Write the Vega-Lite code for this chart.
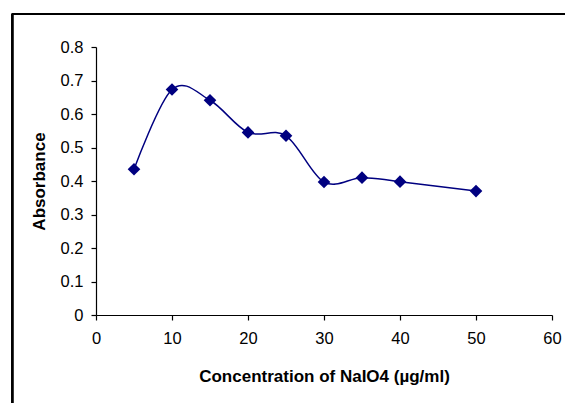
{
  "$schema": "https://vega.github.io/schema/vega-lite/v6.json",
  "width": 456,
  "height": 268,
  "autosize": "none",
  "padding": {"left": 96, "top": 47, "right": 13, "bottom": 88},
  "background": "white",
  "config": {
    "view": {"stroke": null},
    "axis": {
      "grid": false,
      "domainColor": "black",
      "domainWidth": 1.2,
      "tickColor": "black",
      "tickWidth": 1.2,
      "labelColor": "black",
      "titleColor": "black",
      "labelFont": "Liberation Sans",
      "labelFontSize": 16.5,
      "labelOverlap": false,
      "labelFlush": false,
      "titleFont": "Liberation Sans",
      "titleFontSize": 17,
      "titleFontWeight": "bold",
      "tickSize": 5
    }
  },
  "data": {
    "values": [
      {"conc": 5, "abs": 0.435},
      {"conc": 10, "abs": 0.673},
      {"conc": 15, "abs": 0.641},
      {"conc": 20, "abs": 0.545},
      {"conc": 25, "abs": 0.535},
      {"conc": 30, "abs": 0.397},
      {"conc": 35, "abs": 0.41},
      {"conc": 40, "abs": 0.398},
      {"conc": 50, "abs": 0.37}
    ]
  },
  "encoding": {
    "x": {
      "field": "conc",
      "type": "quantitative",
      "scale": {"domain": [0, 60], "nice": false},
      "axis": {
        "values": [0, 10, 20, 30, 40, 50, 60],
        "title": "Concentration of NaIO4 (µg/ml)",
        "labelPadding": 10,
        "titlePadding": 22
      }
    },
    "y": {
      "field": "abs",
      "type": "quantitative",
      "scale": {"domain": [0, 0.8], "nice": false},
      "axis": {
        "values": [0, 0.1, 0.2, 0.3, 0.4, 0.5, 0.6, 0.7, 0.8],
        "format": "~g",
        "title": "Absorbance",
        "labelPadding": 8,
        "titlePadding": 12
      }
    }
  },
  "layer": [
    {
      "mark": {"type": "rule", "color": "black", "strokeWidth": 1.5, "clip": false},
      "encoding": {
        "x": {"datum": -11},
        "x2": {"datum": 70},
        "y": {"datum": 0.899},
        "y2": null
      }
    },
    {
      "mark": {"type": "rule", "color": "black", "strokeWidth": 1.5, "clip": false},
      "encoding": {
        "x": {"datum": -11},
        "x2": null,
        "y": {"datum": 0.899},
        "y2": {"datum": -0.5}
      }
    },
    {
      "mark": {"type": "line", "interpolate": "cardinal", "color": "#000080", "strokeWidth": 1.5}
    },
    {
      "mark": {"type": "point", "shape": "diamond", "filled": true, "color": "#000080", "size": 160, "opacity": 1}
    }
  ]
}
